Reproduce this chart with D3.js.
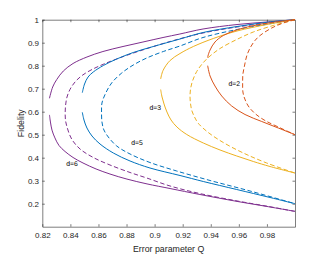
<!DOCTYPE html>
<html>
<head>
<meta charset="utf-8">
<script src="https://cdn.jsdelivr.net/npm/d3@7"></script>
<style>
  body { margin: 0; background: #fff; }
  svg { display: block; font-family: "Liberation Sans", Arial, Helvetica, sans-serif; }
</style>
</head>
<body>
<svg width="326" height="255"></svg>
<script>
// values, as [Q, F] pairs
// d=6 (purple)
const d6SolidUpper = [[1, 1], [0.980, 0.990], [0.9587, 0.979], [0.9345, 0.9596], [0.918, 0.9378], [0.906, 0.9226], [0.8917, 0.903], [0.8775, 0.8835], [0.8632, 0.8617], [0.8518, 0.8378], [0.8419, 0.8096], [0.835, 0.777], [0.8303, 0.740], [0.8274, 0.7074], [0.8251, 0.6583]];
const d6SolidLower = [[0.8251, 0.586], [0.8258, 0.555], [0.8269, 0.520], [0.829, 0.486], [0.8319, 0.453], [0.8362, 0.427], [0.8419, 0.401], [0.849, 0.377], [0.8583, 0.351], [0.8682, 0.329], [0.8803, 0.307], [0.8946, 0.286], [0.911, 0.266], [0.9323, 0.240], [0.9587, 0.210], [0.980, 0.188], [1, 0.1667]];
const d6Dashed = [[1, 1], [0.9801, 0.9857], [0.9587, 0.9683], [0.9345, 0.9422], [0.911, 0.9052], [0.886, 0.8574], [0.8739, 0.8313], [0.8639, 0.8074], [0.8554, 0.7835], [0.8483, 0.7574], [0.8433, 0.7291], [0.8397, 0.6965], [0.8376, 0.6639], [0.8367, 0.6335], [0.8363, 0.5987], [0.8365, 0.5639], [0.8376, 0.5335], [0.8409, 0.4813], [0.8469, 0.4378], [0.8563, 0.4009], [0.8682, 0.3683], [0.8825, 0.3357], [0.8944, 0.3117], [0.911, 0.277], [0.9323, 0.244], [0.9587, 0.212], [0.9801, 0.189], [1, 0.1667]];
// d=5 (blue)
const d5SolidUpper = [[1, 1], [0.9801, 0.9887], [0.9587, 0.9704], [0.9345, 0.9443], [0.9181, 0.9161], [0.8991, 0.8835], [0.8848, 0.8574], [0.873, 0.8291], [0.8635, 0.8009], [0.8563, 0.7726], [0.8526, 0.7509], [0.8501, 0.7204], [0.8485, 0.6826]];
const d5SolidLower = [[0.8485, 0.5974], [0.8497, 0.5639], [0.8518, 0.5291], [0.8554, 0.4943], [0.8611, 0.4596], [0.8706, 0.4204], [0.8825, 0.3857], [0.8967, 0.3552], [0.9181, 0.3226], [0.9347, 0.2965], [0.9585, 0.2617], [0.9822, 0.227], [1, 0.2]];
const d5Dashed = [[1, 1], [0.9801, 0.9804], [0.9587, 0.9574], [0.9345, 0.9226], [0.9181, 0.8857], [0.9062, 0.8617], [0.8944, 0.8335], [0.8848, 0.803], [0.8766, 0.7683], [0.8694, 0.7248], [0.8647, 0.6748], [0.8625, 0.6378], [0.8622, 0.603], [0.8625, 0.5552], [0.8639, 0.5204], [0.867, 0.490], [0.873, 0.4509], [0.8825, 0.4161], [0.8967, 0.3791], [0.9157, 0.3422], [0.9395, 0.3009], [0.968, 0.2552], [1, 0.2]];
// d=3 (yellow)
const d3SolidUpper = [[1, 1], [0.9801, 0.9791], [0.9587, 0.9509], [0.9418, 0.9183], [0.9276, 0.8835], [0.9181, 0.853], [0.911, 0.8226], [0.906, 0.7791], [0.9043, 0.7422]];
const d3SolidLower = [[0.9043, 0.6965], [0.9053, 0.6639], [0.9067, 0.6335], [0.9088, 0.5987], [0.9117, 0.5639], [0.9159, 0.5335], [0.9229, 0.5009], [0.9347, 0.4639], [0.9466, 0.4335], [0.9585, 0.4074], [0.9703, 0.3835], [0.9822, 0.3617], [1, 0.3333]];
const d3Dashed = [[1, 1], [0.9845, 0.9748], [0.9703, 0.9465], [0.9585, 0.9139], [0.9466, 0.8748], [0.9395, 0.8422], [0.9347, 0.8139], [0.930, 0.7748], [0.927, 0.7335], [0.9256, 0.6987], [0.9252, 0.6652], [0.9256, 0.6335], [0.9266, 0.603], [0.9288, 0.5726], [0.9311, 0.5496], [0.9382, 0.5096], [0.9489, 0.4661], [0.9632, 0.4204], [0.9798, 0.377], [1, 0.3333]];
// d=2 (red)
const d2SolidUpper = [[1, 1], [0.9834, 0.9878], [0.9692, 0.9726], [0.9573, 0.953], [0.9489, 0.9313], [0.943, 0.903], [0.9395, 0.8683], [0.938, 0.8422], [0.9378, 0.8348]];
const d2SolidLower = [[0.9378, 0.800], [0.9395, 0.7552], [0.943, 0.7117], [0.9478, 0.6683], [0.9549, 0.6248], [0.9644, 0.5878], [0.9763, 0.5574], [0.9881, 0.5291], [1, 0.5]];
const d2Dashed = [[1, 1], [0.9917, 0.9857], [0.9834, 0.9639], [0.9751, 0.9313], [0.9715, 0.9096], [0.968, 0.877], [0.9656, 0.8422], [0.964, 0.7987], [0.9629, 0.7639], [0.9627, 0.7248], [0.9629, 0.6857], [0.964, 0.6596], [0.9667, 0.6248], [0.9715, 0.5922], [0.9786, 0.5617], [0.9881, 0.5335], [1, 0.5]];

const xTicks = [0.82, 0.84, 0.86, 0.88, 0.9, 0.92, 0.94, 0.96, 0.98];
const yTicks = [0.2, 0.3, 0.4, 0.5, 0.6, 0.7, 0.8, 0.9, 1];

const labelText = ["d=2", "d=3", "d=5", "d=6"];
const labelQ = [0.9567, 0.9005, 0.8875, 0.8412];
const labelF = [0.7204, 0.6126, 0.4626, 0.3713];

const purple = "#7E2F8E", blue = "#0072BD", yellow = "#EDB120", red = "#D95319";

// drawing order as in the figure
const curves = [
    {pts: d6SolidUpper, color: purple, dashed: false},
    {pts: d6SolidLower, color: purple, dashed: false},
    {pts: d6Dashed, color: purple, dashed: true},
    {pts: d5SolidUpper, color: blue, dashed: false},
    {pts: d5SolidLower, color: blue, dashed: false},
    {pts: d5Dashed, color: blue, dashed: true},
    {pts: d3SolidUpper, color: yellow, dashed: false},
    {pts: d3SolidLower, color: yellow, dashed: false},
    {pts: d3Dashed, color: yellow, dashed: true},
    {pts: d2SolidUpper, color: red, dashed: false},
    {pts: d2SolidLower, color: red, dashed: false},
    {pts: d2Dashed, color: red, dashed: true}
];

const svg = d3.select("svg");
const box = {left: 42.3, right: 295, top: 19.7, bottom: 226.7};

const x = d3.scaleLinear().domain([0.82, 1]).range([box.left, box.right]);
const y = d3.scaleLinear().domain([0.1, 1]).range([box.bottom, box.top]);
const axisColor = "#262626";

// axes, ticks point inwards like matlab
const gx = svg.append("g").attr("transform", `translate(0,${box.bottom})`)
    .call(d3.axisBottom(x).tickValues(xTicks).tickSizeInner(-2.5).tickSizeOuter(0).tickPadding(6).tickFormat(d3.format("~g")));
const gxTop = svg.append("g").attr("transform", `translate(0,${box.top})`)
    .call(d3.axisTop(x).tickValues(xTicks).tickSizeInner(-2.5).tickSizeOuter(0).tickFormat(""));
const gy = svg.append("g").attr("transform", `translate(${box.left},0)`)
    .call(d3.axisLeft(y).tickValues(yTicks).tickSizeInner(-2.5).tickSizeOuter(0).tickPadding(3.3).tickFormat(d3.format("~g")));
const gyRight = svg.append("g").attr("transform", `translate(${box.right},0)`)
    .call(d3.axisRight(y).tickValues(yTicks).tickSizeInner(-2.5).tickSizeOuter(0).tickFormat(""));

[gx, gxTop, gy, gyRight].forEach((g) => {
    g.selectAll("path, line").attr("stroke", axisColor).attr("stroke-width", 0.6);
    g.selectAll("text").attr("fill", axisColor).attr("font-size", 8)
        .attr("font-family", "'Liberation Sans', Arial, Helvetica, sans-serif");
});

const line = d3.line()
    .curve(d3.curveCatmullRom.alpha(0.5))
    .x((d) => x(d[0]))
    .y((d) => y(d[1]));

svg.append("g").selectAll("path")
    .data(curves)
    .join("path")
    .attr("d", (c) => line(c.pts))
    .attr("fill", "none")
    .attr("stroke", (c) => c.color)
    .attr("stroke-width", 1)
    .attr("stroke-dasharray", (c) => c.dashed ? "4.5,2.5" : null);

// curve labels
svg.append("g").selectAll("text")
    .data(labelText)
    .join("text")
    .attr("x", (d, i) => x(labelQ[i]))
    .attr("y", (d, i) => y(labelF[i]))
    .attr("text-anchor", "middle")
    .attr("dominant-baseline", "central")
    .attr("font-size", 6.8)
    .attr("fill", "#000")
    .style("text-rendering", "geometricPrecision")
    .text((d) => d);

// axis titles
svg.append("text")
    .attr("x", (box.left + box.right) / 2)
    .attr("y", 251.5)
    .attr("text-anchor", "middle")
    .attr("font-size", 8.8)
    .attr("fill", axisColor)
    .text("Error parameter Q");

svg.append("text")
    .attr("transform", `translate(24,${(box.top + box.bottom) / 2}) rotate(-90)`)
    .attr("text-anchor", "middle")
    .attr("font-size", 8.8)
    .attr("fill", axisColor)
    .text("Fidelity");
</script>
</body>
</html>
